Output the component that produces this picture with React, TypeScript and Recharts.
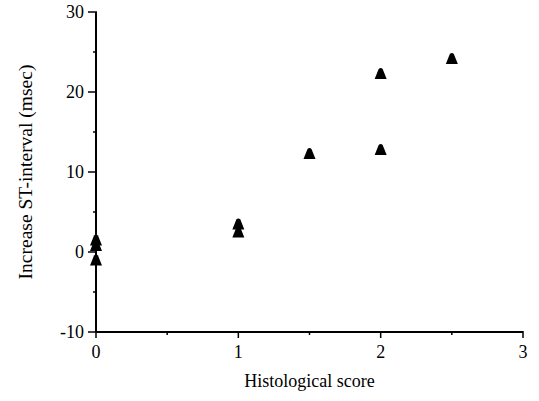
import React from 'react';
import { ScatterChart, Scatter, XAxis, YAxis } from 'recharts';

const histologicalScore = [0, 0, 0, 1, 1, 1.5, 2, 2, 2.5];
const stIncrease = [1.5, 0.8, -1, 3.5, 2.5, 12.3, 22.3, 12.8, 24.2];

const xTicks = [0, 0.5, 1, 1.5, 2, 2.5, 3];
const yTicks = [-10, -5, 0, 5, 10, 15, 20, 25, 30];

const points = histologicalScore.map((x, i) => ({ x, y: stIncrease[i] }));

const FONT = "'Liberation Serif', 'Times New Roman', serif";

const Triangle = (props: any) => {
    const { cx, cy } = props;
    if (cx == null || cy == null) return null;
    const w = 6;
    const h = 5.5;
    return (
        <path
            d={`M${cx - w},${cy + h} L${cx - 2},${cy - h + 1} Q${cx},${cy - h - 1} ${cx + 2},${cy - h + 1} L${cx + w},${cy + h} Z`}
            fill="#000"
        />
    );
};

const YTick = (props: any) => {
    const { x, y, payload } = props;
    const major = payload.value % 10 === 0;
    return (
        <g>
            <line x1={x + 1} x2={major ? x - 8 : x - 3} y1={y} y2={y} stroke="#000" strokeWidth={1.5} />
            {major && (
                <text x={x - 12} y={y + 6} textAnchor="end" style={{ fontFamily: FONT, fontSize: 18 }} fill="#000">
                    {payload.value}
                </text>
            )}
        </g>
    );
};

const XTick = (props: any) => {
    const { x, y, payload } = props;
    const major = Number.isInteger(payload.value);
    return (
        <g>
            <line x1={x} x2={x} y1={y - 1} y2={major ? y + 6 : y + 3} stroke="#000" strokeWidth={1.5} />
            {major && (
                <text x={x} y={y + 26} textAnchor="middle" style={{ fontFamily: FONT, fontSize: 18 }} fill="#000">
                    {payload.value}
                </text>
            )}
        </g>
    );
};

export default function App() {
    return (
        <div style={{ position: 'absolute', left: 0, top: 0, background: '#fff' }}>
            <ScatterChart width={539} height={401} margin={{ top: 12, right: 16, bottom: 0, left: 0 }}>
                <XAxis
                    type="number"
                    dataKey="x"
                    domain={[0, 3]}
                    ticks={xTicks}
                    interval={0}
                    height={69}
                    tickLine={false}
                    tickSize={0}
                    tickMargin={0}
                    tick={<XTick />}
                    axisLine={{ stroke: '#000', strokeWidth: 2 }}
                    label={{ value: 'Histological score', position: 'insideBottom', offset: 14, style: { fontFamily: FONT, fontSize: 18 }, fill: '#000' }}
                />
                <YAxis
                    type="number"
                    dataKey="y"
                    domain={[-10, 30]}
                    ticks={yTicks}
                    interval={0}
                    width={96}
                    tickLine={false}
                    tickSize={0}
                    tickMargin={0}
                    tick={<YTick />}
                    axisLine={{ stroke: '#000', strokeWidth: 2 }}
                    label={{ value: 'Increase ST-interval (msec)', angle: -90, position: 'insideLeft', offset: 25, style: { fontFamily: FONT, fontSize: 19.5, textAnchor: 'middle' }, fill: '#000' }}
                />
                <Scatter data={points} shape={<Triangle />} isAnimationActive={false} />
            </ScatterChart>
        </div>
    );
}
